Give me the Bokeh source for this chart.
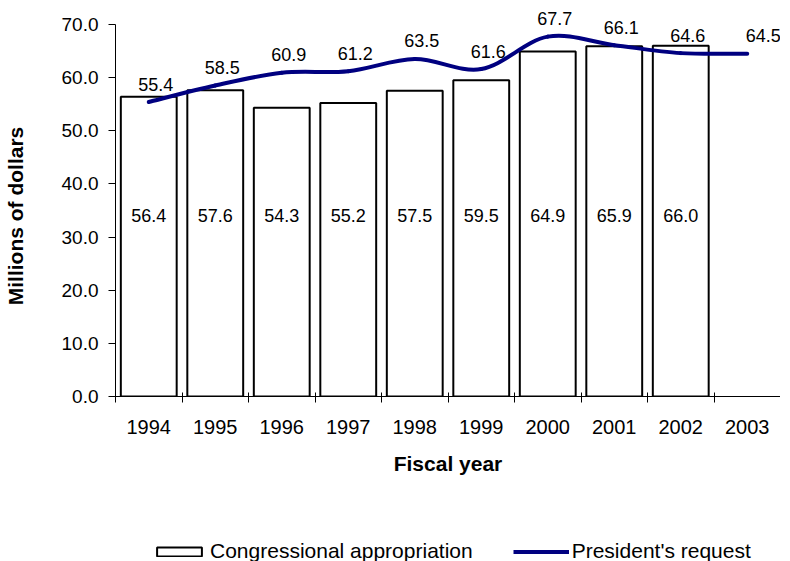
from bokeh.plotting import figure
from bokeh.layouts import column
from bokeh.models import (ColumnDataSource, LabelSet, Legend, LegendItem, FixedTicker,
                          NumeralTickFormatter, Range1d)
from bokeh.core.properties import value
from bokeh.embed import file_html
from bokeh.resources import INLINE

# ---- data ----
years = ["1994", "1995", "1996", "1997", "1998", "1999", "2000", "2001", "2002", "2003"]
appropriation = [56.4, 57.6, 54.3, 55.2, 57.5, 59.5, 64.9, 65.9, 66.0]
request = [55.4, 58.5, 60.9, 61.2, 63.5, 61.6, 67.7, 66.1, 64.6, 64.5]
y_ticks = [0, 10, 20, 30, 40, 50, 60, 70]

FONT = "Liberation Sans"
NAVY = "#000080"
NAN = float("nan")

n = len(years)
centers = [i + 0.5 for i in range(n)]
bar_x = centers[:len(appropriation)]

p = figure(width=780, height=500, output_backend="svg", toolbar_location=None,
           x_range=Range1d(0, n), y_range=Range1d(0, 74.5),
           min_border_left=109, min_border_right=0, min_border_top=0, min_border_bottom=104)
p.outline_line_color = None
p.xgrid.visible = False
p.ygrid.visible = False

# bars
bar_src = ColumnDataSource(dict(x=bar_x, top=appropriation,
                                label=[f"{v:.1f}" for v in appropriation],
                                ly=[34] * len(appropriation)))
bars = p.vbar(x="x", top="top", bottom=0, width=0.84, source=bar_src,
              fill_color="white", line_color="black", line_width=2)

# smoothed line (Catmull-Rom -> cubic Bezier control points derived from the data)
x0, y0, x1, y1, cx0, cy0, cx1, cy1 = [], [], [], [], [], [], [], []
for i in range(n - 1):
    ip = max(i - 1, 0)
    inx = min(i + 2, n - 1)
    x0.append(centers[i]); y0.append(request[i])
    x1.append(centers[i + 1]); y1.append(request[i + 1])
    cx0.append(centers[i] + (centers[i + 1] - centers[ip]) / 6)
    cy0.append(request[i] + (request[i + 1] - request[ip]) / 6)
    cx1.append(centers[i + 1] - (centers[inx] - centers[i]) / 6)
    cy1.append(request[i + 1] - (request[inx] - request[i]) / 6)
p.bezier(x0=x0, y0=y0, x1=x1, y1=y1, cx0=cx0, cy0=cy0, cx1=cx1, cy1=cy1,
         line_color=NAVY, line_width=4, line_cap="round")

# labels
bar_labels = LabelSet(x="x", y="ly", text="label", source=bar_src,
                      text_align="center", text_baseline="middle",
                      text_font=value(FONT), text_font_size=value("18px"), text_color="black")
p.add_layout(bar_labels)

label_dx = [7] * (n - 1) + [16]
line_src = ColumnDataSource(dict(x=centers, y=request, dx=label_dx,
                                 label=[f"{v:.1f}" for v in request]))
line_labels = LabelSet(x="x", y="y", text="label", source=line_src,
                       x_offset="dx", y_offset=18,
                       text_align="center", text_baseline="middle",
                       text_font=value(FONT), text_font_size=value("18px"), text_color="black")
p.add_layout(line_labels)

# axes
xa = p.xaxis[0]
xa.ticker = FixedTicker(ticks=centers, minor_ticks=list(range(n + 1)))
xa.major_label_overrides = {c: y for c, y in zip(centers, years)}
xa.major_tick_line_color = None
xa.major_tick_out = 0
xa.major_tick_in = 0
xa.minor_tick_line_color = "black"
xa.minor_tick_in = 4
xa.minor_tick_out = 6
xa.major_label_standoff = 17
xa.major_label_text_font = FONT
xa.major_label_text_font_size = "20px"
xa.major_label_text_color = "black"
xa.axis_line_color = "black"
xa.axis_label = "Fiscal year"
xa.axis_label_text_font = FONT
xa.axis_label_text_font_style = "bold"
xa.axis_label_text_font_size = "21px"
xa.axis_label_standoff = 15
xa.axis_label_text_color = "black"

ya = p.yaxis[0]
ya.ticker = FixedTicker(ticks=y_ticks)
ya.bounds = (0, 70)
ya.formatter = NumeralTickFormatter(format="0.0")
ya.major_tick_in = 0
ya.major_tick_out = 7
ya.minor_tick_line_color = None
ya.major_label_standoff = 10
ya.major_label_text_font = FONT
ya.major_label_text_font_size = "19px"
ya.major_label_text_color = "black"
ya.axis_line_color = "black"
# trailing no-break spaces nudge the rotated title down to sit centred on the 0-70 axis
ya.axis_label = "Millions of dollars" + "\u00a0" * 6
ya.axis_label_text_font = FONT
ya.axis_label_text_font_style = "bold"
ya.axis_label_text_font_size = "21px"
ya.axis_label_standoff = 32
ya.axis_label_text_color = "black"

# legend strip (frame is aligned with the main plot's frame by the column layout)
q = figure(width=780, height=61, output_backend="svg", toolbar_location=None,
           x_range=Range1d(0, 1), y_range=Range1d(0, 1), min_border=0,
           x_axis_type=None, y_axis_type=None)
q.outline_line_color = None
q.xgrid.visible = False
q.ygrid.visible = False
leg_bar = q.vbar(x=[NAN], top=[NAN], width=0.5, fill_color="white", line_color="black", line_width=2)
leg_line = q.line(x=[NAN], y=[NAN], line_color=NAVY, line_width=4)

legend = Legend(items=[LegendItem(label="Congressional appropriation", renderers=[leg_bar]),
                       LegendItem(label="President's request", renderers=[leg_line])],
                orientation="horizontal", location=(36, -2),
                glyph_width=56, glyph_height=11, label_standoff=3, spacing=40,
                padding=0, margin=0, border_line_color=None, background_fill_alpha=0,
                label_text_font=FONT, label_text_font_size="21px", label_height=21,
                label_text_color="black")
q.add_layout(legend, "center")

layout = column(p, q, spacing=0)
open("out.html", "w").write(file_html(layout, INLINE))
